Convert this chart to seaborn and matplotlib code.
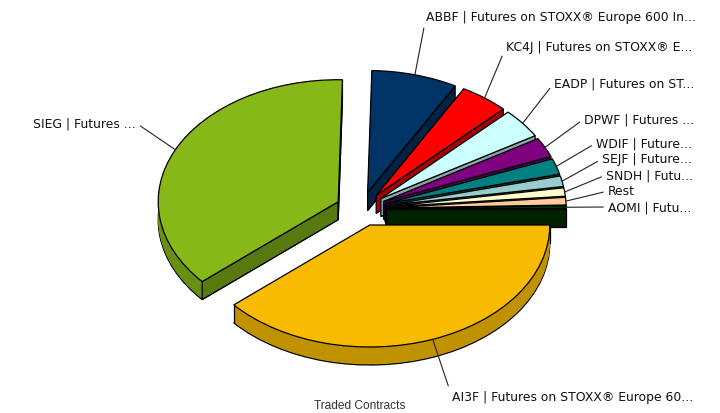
import numpy as np
import matplotlib
matplotlib.use("Agg")
import matplotlib.pyplot as plt
import seaborn as sns

labels = ["AI3F | Futures on STOXX® Europe 60...", "SIEG | Futures ...",
          "ABBF | Futures on STOXX® Europe 600 In...", "KC4J | Futures on STOXX® E...",
          "EADP | Futures on ST...", "DPWF | Futures ...", "WDIF | Future...",
          "SEJF | Future...", "SNDH | Futu...", "Rest", "AOMI | Futu..."]
shares = [38.6, 36.7, 7.7, 4.4, 3.9, 2.6, 2.1, 1.4, 1.1, 1.0, 0.4]
hexes = ["#F8BB00", "#86B817", "#003366", "#FF0000", "#CCFFFF", "#800080",
         "#008080", "#99CCCC", "#FFFFCC", "#FFCC99", "#003300"]
title = "Traded Contracts"

# layout, in reference pixels
W, H = 720, 414
CX, CY, RX, RY = 361, 210, 180, 122
DEPTH = 18
EXPLODE = 0.14
draw_rank = [10, 0, 1, 2, 3, 4, 5, 6, 7, 8, 9]
label_px = [(452, 398), (136, 124), (426, 18), (506, 48), (554, 84), (584, 120),
            (596, 144), (602, 160), (606, 176), (608, 192), (608, 208)]

sns.set_theme(style="white")
plt.rcParams["font.family"] = ["DejaVu Sans"]
palette = sns.color_palette(hexes)
side = [tuple(c * 0.78 for c in col) for col in palette]
flat = [tuple(c * 0.66 for c in col) for col in palette]

fig = plt.figure(figsize=(W / 100, H / 100), dpi=100)
ax = fig.add_axes([0, 0, 1, 1])
dy = 1 / RY
EW = 0.9

pie_kw = dict(startangle=0, counterclock=False, radius=1.0,
              explode=[EXPLODE] * len(shares))
for k in range(DEPTH, 0, -1):
    wedges, _ = ax.pie(shares, colors=side, center=(0, -k * dy), **pie_kw,
                       wedgeprops=dict(linewidth=EW if k == DEPTH else 0,
                                       edgecolor="black" if k == DEPTH else "none"))
    for w, r in zip(wedges, draw_rank):
        w.set_zorder(10 * r + 1)
tops, _ = ax.pie(shares, colors=palette, center=(0, 0), **pie_kw,
                 wedgeprops=dict(linewidth=EW, edgecolor="black"))
for w, r in zip(tops, draw_rank):
    w.set_zorder(10 * r + 3)

ax.set_aspect("auto")
ax.set_xlim(-CX / RX, (W - CX) / RX)
ax.set_ylim((CY - H) / RY, CY / RY)
ax.axis("off")

fr = np.cumsum([0] + shares) / sum(shares) * 2 * np.pi  # clockwise from east
d = DEPTH * dy
for i, r in enumerate(draw_rank):
    a, b = fr[i], fr[i + 1]
    m = (a + b) / 2
    ox, oy = EXPLODE * np.cos(m), -EXPLODE * np.sin(m)
    for ang, vis in ((a, np.cos(a) < -1e-6), (b, np.cos(b) > 1e-6)):
        ex, ey = ox + np.cos(ang), oy - np.sin(ang)
        if vis:
            ax.fill([ox, ex, ex, ox], [oy, ey, ey - d, oy - d], facecolor=flat[i],
                    edgecolor="black", linewidth=EW, zorder=10 * r + 2)
        elif np.sin(ang) > -1e-6:
            ax.plot([ex, ex], [ey, ey - d], color="black", lw=EW, zorder=10 * r + 3)

for i, (lab, (px, py)) in enumerate(zip(labels, label_px)):
    m = (fr[i] + fr[i + 1]) / 2
    rim = (1 + EXPLODE) * np.array([np.cos(m), -np.sin(m)])
    left = px > CX
    ax.annotate(lab, xy=rim, xycoords="data", xytext=(px, H - py),
                textcoords="figure pixels", ha="left" if left else "right", va="center",
                fontsize=8.9, color="#111111", zorder=500,
                arrowprops=dict(arrowstyle="-", color="#222222", lw=0.8, shrinkA=1, shrinkB=0,
                                relpos=(0, 0.5) if left else (1, 0.5)))

fig.text(360 / W, 1 - 406 / H, title, ha="center", va="center", fontsize=8.6,
         family="Liberation Sans", color="#333333")
fig.savefig("out.png", dpi=100)
